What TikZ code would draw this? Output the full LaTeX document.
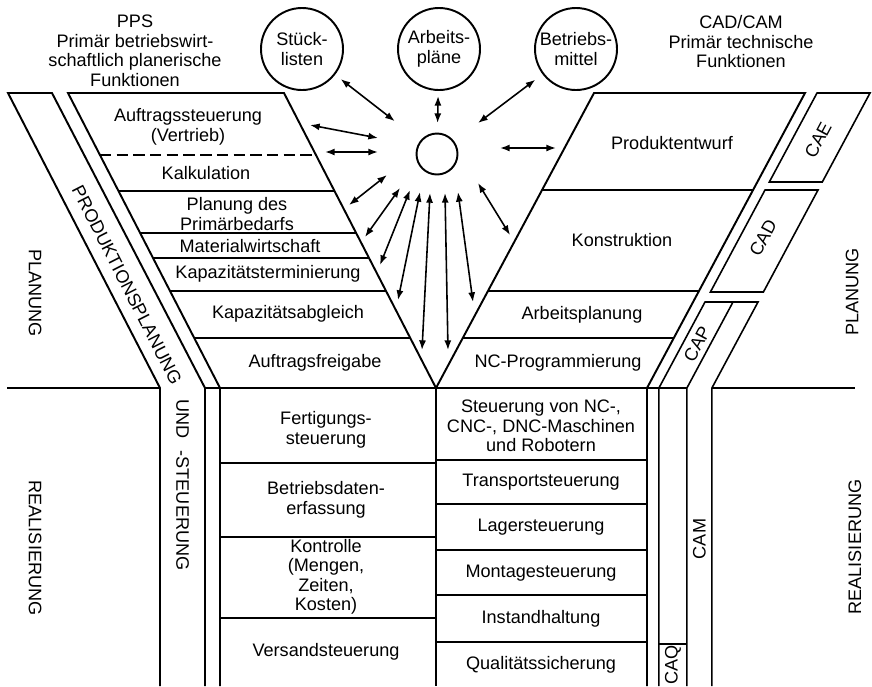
\documentclass[tikz,border=0pt]{standalone}
\usepackage{fontspec}
\setmainfont{Liberation Sans}
\usepackage{tikz}
\usetikzlibrary{arrows.meta}
\newcommand{\ylbl}{\fontsize{10.3}{11.1}\selectfont}

\begin{document}
\begin{tikzpicture}[
  x=0.2mm, y=-0.2mm,
  >={Latex[length=5.5pt,width=4pt]},
  frame/.style={line width=1.1pt, line join=miter},
  bandline/.style={line width=0.9pt, line join=miter},
  rowline/.style={line width=1.1pt},
  dashrow/.style={line width=1.1pt, dash pattern=on 6.5pt off 3pt},
  dblarr/.style={<->, line width=0.9pt},
  store/.style={draw, circle, line width=1.1pt, minimum size=16.4mm, inner sep=0pt,
                align=center, font=\ylbl},
  hubnode/.style={draw, circle, line width=1.1pt, minimum size=8.2mm, inner sep=0pt},
  fn/.style={align=center, font=\ylbl, inner sep=1pt},
  side/.style={font=\ylbl, inner sep=1pt},
]
\useasboundingbox (0,0) rectangle (872,686);

% headers and data stores
\node[fn] (pps)    at (135,51)  {PPS\\Primär betriebswirt-\\schaftlich planerische\\Funktionen};
\node[fn] (cadcam) at (741,42)  {CAD/CAM\\Primär technische\\Funktionen};
\node[store] (stk) at (302,49) {Stück-\\listen};
\node[store] (apl) at (439,49) {Arbeits-\\pläne};
\node[store] (bmi) at (576,49) {Betriebs-\\mittel};
\node[hubnode] (hub) at (437,154) {};

\draw[dblarr, shorten <=6.4mm, shorten >=1.4mm] (hub) -- (stk);
\draw[dblarr, shorten <=1.9mm, shorten >=1mm]   (hub) -- (apl);
\draw[dblarr, shorten <=6mm,   shorten >=1.8mm] (hub) -- (bmi);

\foreach \n/\xa/\ya/\xb/\yb in {
  auf/378/138/310/125, ver/378/152/325/152, pent/500/148/556/148, pbed/387/175/349/205,
  mat/400/188/365/237, kter/410/190/380/265, kabg/420/192/398/300, afr/430/193/422/350,
  ncp/445/193/448/350, apn/458/192/473/302, kon/478/183/510/235}{
  \coordinate (\n-a) at (\xa,\ya);
  \coordinate (\n-b) at (\xb,\yb);
  \draw[dblarr] (\n-a) -- (\n-b);
}

% the Y
\draw[frame] (160,686) -- (160,388) -- (8,93) -- (52,93) -- (205,388) -- (205,686);
\draw[frame] (220,686) -- (220,388) -- (68,93) -- (284,93) -- (436,388) -- (594,93)
             -- (805,93) -- (647,388) -- (647,686);
\draw[frame] (436,388) -- (436,686);
\draw[frame] (205,388) -- (687,388);
\draw[frame] (7,388) -- (160,388);
\draw[frame] (712,388) -- (855,388);

\foreach \y in {191,233,258,291,338}
  \draw[rowline] ({68+0.51525*(\y-93)},\y) -- ({284+0.51525*(\y-93)},\y);
\draw[dashrow] ({68+0.51525*62},155) -- ({284+0.51525*62},155);
\foreach \y in {190,291,338}
  \draw[rowline] ({805-0.53559*(\y-93)},\y) -- ({594-0.53559*(\y-93)},\y);
\foreach \y in {463,537,618}
  \draw[rowline] (220,\y) -- (436,\y);
\foreach \y in {460,504,550,595,642}
  \draw[rowline] (436,\y) -- (647,\y);

% CA-bands
\draw[bandline] (817,93) -- (870,93) -- (822.3,182) -- (769.3,182) -- cycle;
\draw[bandline] (765,190) -- (818,190) -- (763.4,292) -- (710.4,292) -- cycle;
\draw[bandline] (658.9,686) -- (658.9,388) -- (705,302) -- (758,302) -- (711.9,388) -- (711.9,686);
\draw[bandline] (733,302) -- (686.9,388) -- (686.9,686);
\draw[bandline] (658.9,644) -- (686.9,644);

% functions
\node[fn] (aufst)  at (188,127) {Auftragssteuerung\\(Vertrieb)};
\node[fn] (kalk)   at (206,173) {Kalkulation};
\node[fn] (pbedt)  at (237,214) {Planung des\\Primärbedarfs};
\node[fn] (matw)   at (250,246) {Materialwirtschaft};
\node[fn] (kapt)   at (268,274) {Kapazitätsterminierung};
\node[fn] (kapa)   at (288,314) {Kapazitätsabgleich};
\node[fn] (afrg)   at (315,363) {Auftragsfreigabe};
\node[fn] (pentw)  at (672,143) {Produktentwurf};
\node[fn] (konst)  at (622,240) {Konstruktion};
\node[fn] (aplan)  at (582,315) {Arbeitsplanung};
\node[fn] (ncprog) at (558,363) {NC-Programmierung};

\node[fn] (fert)   at (326,430) {Fertigungs-\\steuerung};
\node[fn] (bde)    at (326,500) {Betriebsdaten-\\erfassung};
\node[fn] (kontr)  at (326,577) {Kontrolle\\(Mengen,\\Zeiten,\\Kosten)};
\node[fn] (versd)  at (326,652) {Versandsteuerung};
\node[fn] (ncst)   at (541,426) {Steuerung von NC-,\\CNC-, DNC-Maschinen\\und Robotern};
\node[fn] (trans)  at (541,482) {Transportsteuerung};
\node[fn] (lager)  at (541,527) {Lagersteuerung};
\node[fn] (mont)   at (541,573) {Montagesteuerung};
\node[fn] (inst)   at (541,619) {Instandhaltung};
\node[fn] (qual)   at (541,665) {Qualitätssicherung};

% band and side labels
\node[side, rotate=-63] (prodpl) at (127,285) {PRODUKTIONSPLANUNG};
\node[side, rotate=-90] (undst)  at (182.5,485) {UND\hspace{2.4mm}-STEUERUNG};
\node[side, rotate=62]  (cae)    at (818,140) {CAE};
\node[side, rotate=62]  (cad)    at (763,238) {CAD};
\node[side, rotate=62]  (cap)    at (697,344) {CAP};
\node[side, rotate=90]  (cam)    at (699.5,539) {CAM};
\node[side, rotate=90]  (caq)    at (672.9,665) {CAQ};
\node[side, rotate=-90] (planl)  at (35,293) {PLANUNG};
\node[side, rotate=-90] (reall)  at (35,548) {REALISIERUNG};
\node[side, rotate=90]  (planr)  at (852,292) {PLANUNG};
\node[side, rotate=90]  (realr)  at (855,547) {REALISIERUNG};

\end{tikzpicture}
\end{document}
